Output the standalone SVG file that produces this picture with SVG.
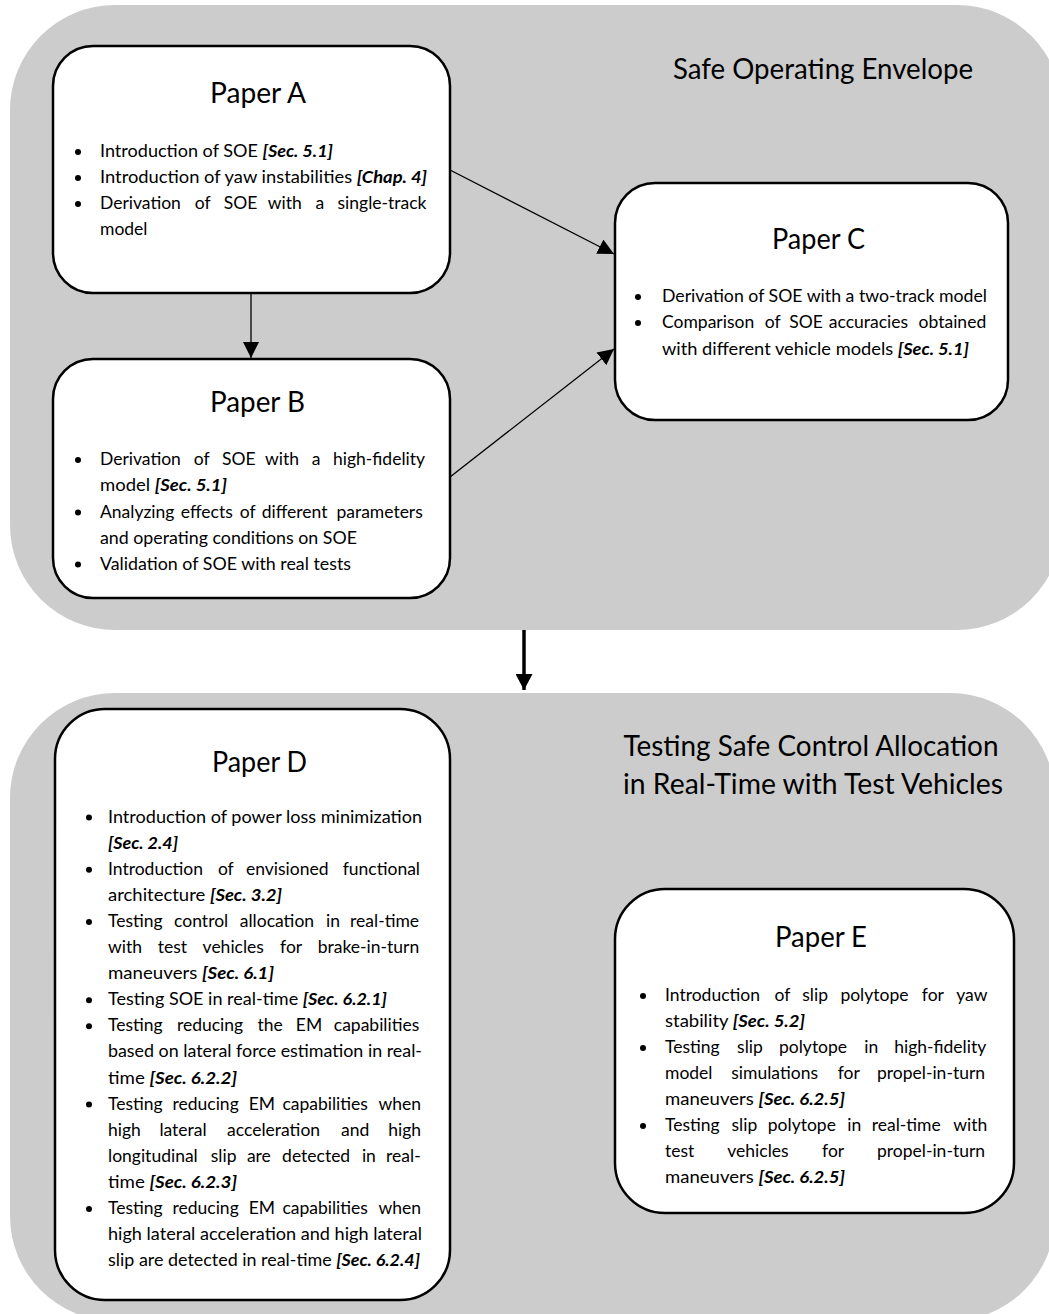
<svg xmlns="http://www.w3.org/2000/svg" width="1049" height="1314" viewBox="0 0 1049 1314">
<defs>
<style>
.panel{fill:#cccccc}
.box{fill:#ffffff;stroke:#000000;stroke-width:2.5}
text{font-family:Lato,"Liberation Sans",sans-serif;fill:#000000}
.title{font-size:29px}
.sec{font-size:29px;text-anchor:middle}
.b{font-size:17.5px}
.ref{font-weight:bold;font-style:italic}
.dot{fill:#000000}
.conn{stroke:#000000;stroke-width:1.3;fill:none}
.thick{stroke:#000000;stroke-width:3.5;fill:none}
</style>
<marker id="arr" viewBox="0 0 16 16" refX="16" refY="8" markerWidth="16" markerHeight="16" markerUnits="userSpaceOnUse" orient="auto">
<path d="M0,0 L16,8 L0,16 Z" fill="#000000"/>
</marker>
<marker id="arrBig" viewBox="0 0 16 17" refX="16" refY="8.5" markerWidth="16" markerHeight="17" markerUnits="userSpaceOnUse" orient="auto">
<path d="M0,0 L16,8.5 L0,17 Z" fill="#000000"/>
</marker>
</defs>

<g id="panel-soe">
<rect class="panel" x="10" y="5" width="1052" height="625" rx="105" ry="105"/>
<text class="sec" x="823" y="79" textLength="300" lengthAdjust="spacingAndGlyphs">Safe Operating Envelope</text>
</g>

<g id="panel-testing">
<rect class="panel" x="10" y="693" width="1045" height="628" rx="105" ry="105"/>
<text class="sec" x="811" y="755.5" textLength="375" lengthAdjust="spacingAndGlyphs">Testing Safe Control Allocation</text>
<text class="sec" x="813" y="794" textLength="380" lengthAdjust="spacingAndGlyphs">in Real-Time with Test Vehicles</text>
</g>

<g id="connectors">
<line class="conn" x1="251" y1="294" x2="251" y2="358" marker-end="url(#arr)"/>
<line class="conn" x1="450" y1="170" x2="614" y2="254" marker-end="url(#arr)"/>
<line class="conn" x1="450" y1="477" x2="614" y2="349" marker-end="url(#arr)"/>
<line class="thick" x1="524" y1="630" x2="524" y2="690" marker-end="url(#arrBig)"/>
</g>

<g id="paper-a">
<rect class="box" x="53" y="46" width="397" height="247" rx="40" ry="40"/>
<text class="title" x="210" y="103" textLength="96" lengthAdjust="spacingAndGlyphs">Paper A</text>
<circle class="dot" cx="78" cy="152" r="3"/>
<circle class="dot" cx="78" cy="178" r="3"/>
<circle class="dot" cx="78" cy="204" r="3"/>
<text class="b" x="100" y="157" textLength="233" lengthAdjust="spacingAndGlyphs">Introduction of SOE <tspan class="ref">[Sec. 5.1]</tspan></text>
<text class="b" x="100" y="183" textLength="327" lengthAdjust="spacingAndGlyphs">Introduction of yaw instabilities <tspan class="ref">[Chap. 4]</tspan></text>
<text class="b" y="209"><tspan x="100">Derivation</tspan><tspan x="194.7">of</tspan><tspan x="223.7">SOE</tspan><tspan x="267.7">with</tspan><tspan x="315.4">a</tspan><tspan x="337.5">single-track</tspan></text>
<text class="b" x="100" y="235">model</text>
</g>

<g id="paper-b">
<rect class="box" x="53" y="359" width="397" height="239" rx="40" ry="40"/>
<text class="title" x="210" y="411.7" textLength="95" lengthAdjust="spacingAndGlyphs">Paper B</text>
<circle class="dot" cx="78" cy="460" r="3"/>
<circle class="dot" cx="78" cy="512.5" r="3"/>
<circle class="dot" cx="78" cy="564.5" r="3"/>
<text class="b" y="465"><tspan x="100">Derivation</tspan><tspan x="193.8">of</tspan><tspan x="221.9">SOE</tspan><tspan x="265">with</tspan><tspan x="311.8">a</tspan><tspan x="333">high-fidelity</tspan></text>
<text class="b" x="100" y="491" textLength="127" lengthAdjust="spacingAndGlyphs">model <tspan class="ref">[Sec. 5.1]</tspan></text>
<text class="b" y="517.5"><tspan x="100">Analyzing</tspan><tspan x="180.8">effects</tspan><tspan x="239.8">of</tspan><tspan x="261.7">different</tspan><tspan x="336.4">parameters</tspan></text>
<text class="b" x="100" y="543.5" textLength="257" lengthAdjust="spacingAndGlyphs">and operating conditions on SOE</text>
<text class="b" x="100" y="569.5" textLength="251" lengthAdjust="spacingAndGlyphs">Validation of SOE with real tests</text>
</g>

<g id="paper-c">
<rect class="box" x="615" y="183" width="393" height="237" rx="40" ry="40"/>
<text class="title" x="772" y="249" textLength="93" lengthAdjust="spacingAndGlyphs">Paper C</text>
<circle class="dot" cx="638" cy="297" r="3"/>
<circle class="dot" cx="638" cy="323" r="3"/>
<text class="b" x="662" y="302" textLength="325" lengthAdjust="spacingAndGlyphs">Derivation of SOE with a two-track model</text>
<text class="b" y="328"><tspan x="662">Comparison</tspan><tspan x="764.7">of</tspan><tspan x="789.2">SOE</tspan><tspan x="828.8">accuracies</tspan><tspan x="918.6">obtained</tspan></text>
<text class="b" x="662" y="355" textLength="307" lengthAdjust="spacingAndGlyphs">with different vehicle models <tspan class="ref">[Sec. 5.1]</tspan></text>
</g>

<g id="paper-d">
<rect class="box" x="55" y="709" width="395" height="591" rx="50" ry="50"/>
<text class="title" x="212" y="771.7" textLength="95" lengthAdjust="spacingAndGlyphs">Paper D</text>
<circle class="dot" cx="89" cy="817.5" r="3"/>
<circle class="dot" cx="89" cy="869.7" r="3"/>
<circle class="dot" cx="89" cy="921.9" r="3"/>
<circle class="dot" cx="89" cy="1000.2" r="3"/>
<circle class="dot" cx="89" cy="1026.3" r="3"/>
<circle class="dot" cx="89" cy="1104.6" r="3"/>
<circle class="dot" cx="89" cy="1209" r="3"/>
<text class="b" x="108" y="822.5" textLength="314" lengthAdjust="spacingAndGlyphs">Introduction of power loss minimization</text>
<text class="b" x="108" y="848.6" textLength="70" lengthAdjust="spacingAndGlyphs"><tspan class="ref">[Sec. 2.4]</tspan></text>
<text class="b" y="874.7"><tspan x="108">Introduction</tspan><tspan x="217.9">of</tspan><tspan x="245.9">envisioned</tspan><tspan x="342.7">functional</tspan></text>
<text class="b" x="108" y="900.8" textLength="174" lengthAdjust="spacingAndGlyphs">architecture <tspan class="ref">[Sec. 3.2]</tspan></text>
<text class="b" y="926.9"><tspan x="108">Testing</tspan><tspan x="174.1">control</tspan><tspan x="239.8">allocation</tspan><tspan x="326.1">in</tspan><tspan x="350.1">real-time</tspan></text>
<text class="b" y="953"><tspan x="108">with</tspan><tspan x="157.7">test</tspan><tspan x="202.6">vehicles</tspan><tspan x="280.1">for</tspan><tspan x="317.7">brake-in-turn</tspan></text>
<text class="b" x="108" y="979.1" textLength="166" lengthAdjust="spacingAndGlyphs">maneuvers <tspan class="ref">[Sec. 6.1]</tspan></text>
<text class="b" x="108" y="1005.2" textLength="279" lengthAdjust="spacingAndGlyphs">Testing SOE in real-time <tspan class="ref">[Sec. 6.2.1]</tspan></text>
<text class="b" y="1031.3"><tspan x="108">Testing</tspan><tspan x="176.9">reducing</tspan><tspan x="257.4">the</tspan><tspan x="295.8">EM</tspan><tspan x="333.8">capabilities</tspan></text>
<text class="b" x="108" y="1057.4" textLength="314" lengthAdjust="spacingAndGlyphs">based on lateral force estimation in real-</text>
<text class="b" x="108" y="1083.5" textLength="129" lengthAdjust="spacingAndGlyphs">time <tspan class="ref">[Sec. 6.2.2]</tspan></text>
<text class="b" y="1109.6"><tspan x="108">Testing</tspan><tspan x="172.5">reducing</tspan><tspan x="248.7">EM</tspan><tspan x="282.4">capabilities</tspan><tspan x="378.4">when</tspan></text>
<text class="b" y="1135.7"><tspan x="108">high</tspan><tspan x="159.4">lateral</tspan><tspan x="227.1">acceleration</tspan><tspan x="341.1">and</tspan><tspan x="388.2">high</tspan></text>
<text class="b" y="1161.8"><tspan x="108">longitudinal</tspan><tspan x="210.8">slip</tspan><tspan x="246.9">are</tspan><tspan x="282.1">detected</tspan><tspan x="361.9">in</tspan><tspan x="386.1">real-</tspan></text>
<text class="b" x="108" y="1187.9" textLength="129" lengthAdjust="spacingAndGlyphs">time <tspan class="ref">[Sec. 6.2.3]</tspan></text>
<text class="b" y="1214"><tspan x="108">Testing</tspan><tspan x="172.5">reducing</tspan><tspan x="248.7">EM</tspan><tspan x="282.4">capabilities</tspan><tspan x="378.4">when</tspan></text>
<text class="b" x="108" y="1240.1" textLength="314" lengthAdjust="spacingAndGlyphs">high lateral acceleration and high lateral</text>
<text class="b" x="108" y="1266.2" textLength="312" lengthAdjust="spacingAndGlyphs">slip are detected in real-time <tspan class="ref">[Sec. 6.2.4]</tspan></text>
</g>

<g id="paper-e">
<rect class="box" x="615" y="889" width="399" height="324" rx="50" ry="50"/>
<text class="title" x="775" y="946.7" textLength="92" lengthAdjust="spacingAndGlyphs">Paper E</text>
<circle class="dot" cx="643" cy="996" r="3"/>
<circle class="dot" cx="643" cy="1048" r="3"/>
<circle class="dot" cx="643" cy="1126" r="3"/>
<text class="b" y="1001"><tspan x="665">Introduction</tspan><tspan x="774.6">of</tspan><tspan x="802.3">slip</tspan><tspan x="840.4">polytope</tspan><tspan x="921.8">for</tspan><tspan x="956.2">yaw</tspan></text>
<text class="b" x="665" y="1027" textLength="140" lengthAdjust="spacingAndGlyphs">stability <tspan class="ref">[Sec. 5.2]</tspan></text>
<text class="b" y="1053"><tspan x="665">Testing</tspan><tspan x="737.1">slip</tspan><tspan x="779">polytope</tspan><tspan x="864.2">in</tspan><tspan x="894.2">high-fidelity</tspan></text>
<text class="b" y="1079"><tspan x="665">model</tspan><tspan x="731.3">simulations</tspan><tspan x="837.7">for</tspan><tspan x="877">propel-in-turn</tspan></text>
<text class="b" x="665" y="1105" textLength="180" lengthAdjust="spacingAndGlyphs">maneuvers <tspan class="ref">[Sec. 6.2.5]</tspan></text>
<text class="b" y="1131"><tspan x="665">Testing</tspan><tspan x="731.5">slip</tspan><tspan x="767.8">polytope</tspan><tspan x="847.3">in</tspan><tspan x="871.7">real-time</tspan><tspan x="953.3">with</tspan></text>
<text class="b" y="1157"><tspan x="665">test</tspan><tspan x="727.3">vehicles</tspan><tspan x="822.1">for</tspan><tspan x="877">propel-in-turn</tspan></text>
<text class="b" x="665" y="1183" textLength="180" lengthAdjust="spacingAndGlyphs">maneuvers <tspan class="ref">[Sec. 6.2.5]</tspan></text>
</g>
</svg>
